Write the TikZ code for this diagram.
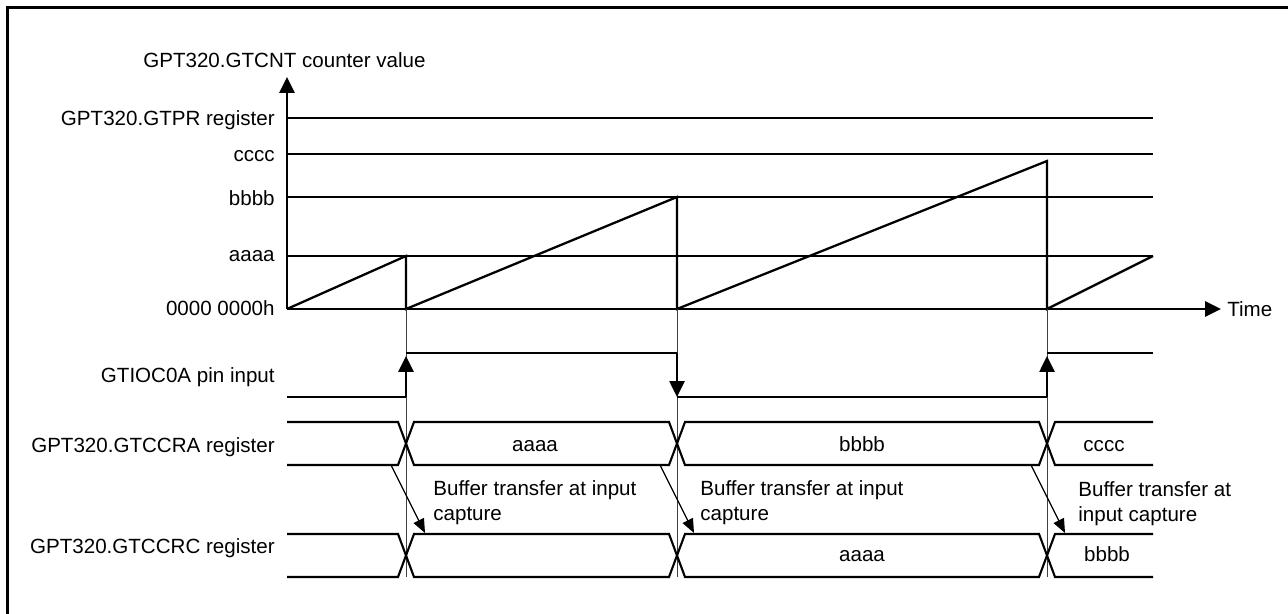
\documentclass[tikz,border=0pt]{standalone}
\usepackage{fontspec}
\setmainfont{Liberation Sans}
\usetikzlibrary{arrows.meta,positioning,calc}

\begin{document}
\begin{tikzpicture}[
	font=\fontsize{11.7}{14.2}\selectfont,
	>={Triangle[length=9pt,width=8.5pt]},
	frame/.style={line width=1.5pt},
	axisline/.style={line width=1.3pt,->},
	gridline/.style={line width=0.6pt},
	markline/.style={line width=0.5pt, black!75},
	wave/.style={line width=1.3pt},
	edgearrow/.style={line width=1.3pt,->},
	bus/.style={line width=1.2pt},
	xferarrow/.style={line width=0.7pt,-{Triangle[length=8pt,width=6.5pt]}},
	rowlabel/.style={anchor=base east, inner sep=0pt},
	busval/.style={anchor=base, inner sep=0pt},
	note/.style={anchor=north west, align=left, inner sep=0pt}
	]
	
	\useasboundingbox (0,0) rectangle (25.76,12.28);
	
	% Outer frame (cut at right and bottom)
	\draw[frame] (0.156,-0.2) -- (0.156,12.136) -- (26,12.136);
	
	% Counter axes
	\node[anchor=base west, inner sep=0pt] (cntlabel) at (2.86,10.92) {GPT320.GTCNT counter value};
	\draw[axisline] (5.74,6.10) -- (5.74,10.74);
	\draw[axisline] (5.74,6.10) -- (24.42,6.10);
	\node[anchor=base west, inner sep=0pt] (time) at (24.54,5.94) {Time};
	
	% Level lines
	\draw[gridline] (5.74,9.92) -- (23.06,9.92);
	\draw[gridline] (5.74,9.20) -- (23.06,9.20);
	\draw[gridline] (5.74,8.34) -- (23.06,8.34);
	\draw[gridline] (5.74,7.16) -- (23.06,7.16);
	\node[rowlabel] (gtpr) at (5.50,9.76) {GPT320.GTPR register};
	\node[rowlabel] (lvc) at (5.50,9.04) {cccc};
	\node[rowlabel] (lvb) at (5.50,8.16) {bbbb};
	\node[rowlabel] (lva) at (5.50,7.04) {aaaa};
	\node[rowlabel] (lvzero) at (5.50,5.96) {0000 0000h};
	
	% Counter sawtooth
	\draw[wave] (5.74,6.10) -- (8.12,7.16) -- (8.12,6.10) -- (13.54,8.34) -- (13.54,6.10)
		-- (20.94,9.06) -- (20.94,6.10) -- (23.06,7.16);
	
	% Capture instants
	\draw[markline] (8.12,6.10) -- (8.12,0.74);
	\draw[markline] (13.54,6.10) -- (13.54,0.74);
	\draw[markline] (20.94,6.10) -- (20.94,0.74);
	
	% GTIOC0A pin input
	\node[rowlabel] (pin) at (5.50,4.62) {GTIOC0A pin input};
	\draw[wave] (5.74,4.34) -- (8.12,4.34);
	\draw[edgearrow] (8.12,4.34) -- (8.12,5.16);
	\draw[wave] (8.12,5.22) -- (13.54,5.22);
	\draw[edgearrow] (13.54,5.22) -- (13.54,4.34);
	\draw[wave] (13.54,4.34) -- (20.94,4.34);
	\draw[edgearrow] (20.94,4.34) -- (20.94,5.16);
	\draw[wave] (20.94,5.22) -- (23.06,5.22);
	
	% GTCCRA register
	\node[rowlabel] (ccra) at (5.50,3.22) {GPT320.GTCCRA register};
	\draw[bus] (5.74,3.84) -- (7.96,3.84) -- (8.28,2.98) -- (13.38,2.98) -- (13.70,3.84)
		-- (20.78,3.84) -- (21.10,2.98) -- (23.06,2.98);
	\draw[bus] (5.74,2.98) -- (7.96,2.98) -- (8.28,3.84) -- (13.38,3.84) -- (13.70,2.98)
		-- (20.78,2.98) -- (21.10,3.84) -- (23.06,3.84);
	\node[busval] (ra1) at (10.70,3.24) {aaaa};
	\node[busval] (ra2) at (17.24,3.24) {bbbb};
	\node[busval] (ra3) at (22.08,3.24) {cccc};
	
	% Buffer transfer
	\draw[xferarrow] (7.82,2.98) -- (8.50,1.62);
	\draw[xferarrow] (13.20,2.98) -- (13.88,1.62);
	\draw[xferarrow] (20.62,2.98) -- (21.30,1.62);
	\node[note] (xfer1) at (8.66,2.68) {Buffer transfer at input\\capture};
	\node[note] (xfer2) at (14.00,2.68) {Buffer transfer at input\\capture};
	\node[note] (xfer3) at (21.56,2.66) {Buffer transfer at\\input capture};
	
	% GTCCRC register
	\node[rowlabel] (ccrc) at (5.50,1.20) {GPT320.GTCCRC register};
	\draw[bus] (5.74,1.60) -- (7.96,1.60) -- (8.28,0.74) -- (13.38,0.74) -- (13.70,1.60)
		-- (20.78,1.60) -- (21.10,0.74) -- (23.06,0.74);
	\draw[bus] (5.74,0.74) -- (7.96,0.74) -- (8.28,1.60) -- (13.38,1.60) -- (13.70,0.74)
		-- (20.78,0.74) -- (21.10,1.60) -- (23.06,1.60);
	\node[busval] (rc2) at (17.24,1.04) {aaaa};
	\node[busval] (rc3) at (22.14,1.04) {bbbb};
	
\end{tikzpicture}
\end{document}
